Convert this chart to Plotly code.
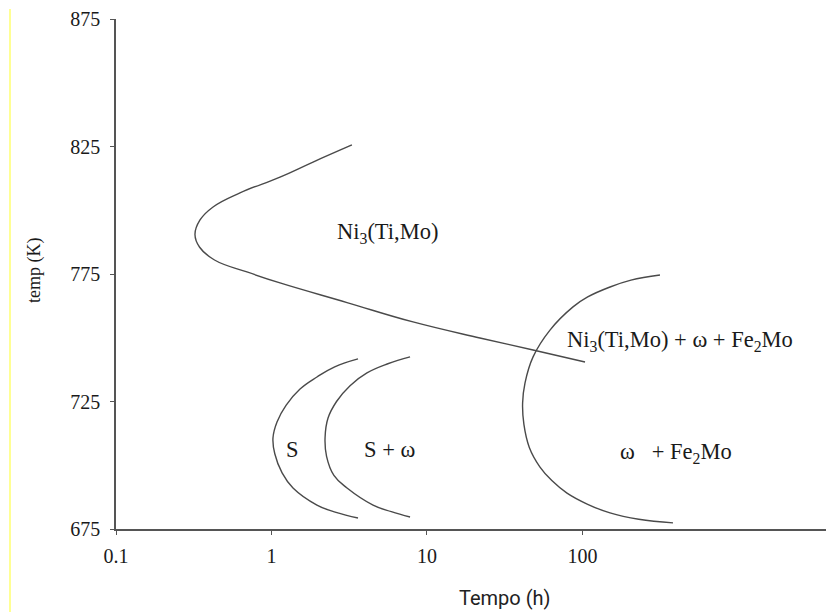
import math
import plotly.graph_objects as go

# ---- data (time in h, temperature in K) ----
ni3_t = [3.29, 1.85, 1.134, 0.627, 0.421, 0.347, 0.322, 0.345, 0.43, 0.695, 1.134, 3.06, 8.13, 21.9, 48.1, 103.8]
ni3_T = [825.6, 818.9, 813.0, 806.8, 801.3, 796.2, 790.5, 785.5, 780.5, 775.8, 771.5, 763.8, 756.2, 749.9, 745.2, 740.5]

s_t = [3.60, 2.55, 1.96, 1.52, 1.24, 1.085, 1.022, 1.05, 1.17, 1.375, 1.96, 2.6, 3.60]
s_T = [741.7, 738.6, 734.6, 729.8, 723.5, 717.0, 710.7, 704.5, 697.0, 691.1, 684.4, 681.5, 679.3]

sw_t = [7.78, 5.6, 4.11, 3.2, 2.62, 2.31, 2.21, 2.26, 2.52, 3.06, 4.50, 5.9, 7.78]
sw_T = [742.5, 739.8, 736.2, 731.2, 725.0, 718.5, 710.7, 703.5, 696.0, 691.1, 684.4, 681.8, 679.7]

wf_t = [315, 205, 150.3, 108, 86.9, 61.8, 48.1, 42.7, 41.2, 42.0, 45.5, 53.3, 63.5, 79.5, 108, 150.3, 230, 382]
wf_T = [774.6, 772.6, 769.9, 766.0, 762.1, 753.0, 742.5, 732.3, 724.4, 716.0, 707.0, 699.3, 694.0, 689.1, 684.7, 681.3, 678.8, 677.4]

x_tickvals = [0.1, 1, 10, 100]
x_ticktext = ["0.1", "1", "10", "100"]
y_tickvals = [675, 725, 775, 825, 875]

labels = ["Ni<sub>3</sub>(Ti,Mo)", "Ni<sub>3</sub>(Ti,Mo) + ω + Fe<sub>2</sub>Mo", "S", "S + ω", "ω   + Fe<sub>2</sub>Mo"]
label_t = [5.61, 424, 1.374, 5.78, 399]
label_T = [791.0, 748.6, 706.0, 706.0, 705.0]

SERIF = "Liberation Serif, Times New Roman, serif"
LINE = "#4a4a4a"
TXT = "#1a1a1a"

fig = go.Figure()
for xs, ys in [(ni3_t, ni3_T), (s_t, s_T), (sw_t, sw_T), (wf_t, wf_T)]:
    fig.add_trace(go.Scatter(x=xs, y=ys, mode="lines",
                             line=dict(color=LINE, width=1.4, shape="spline", smoothing=1.2),
                             showlegend=False, hoverinfo="skip"))

for txt, tx, ty in zip(labels, label_t, label_T):
    fig.add_annotation(x=math.log10(tx), y=ty, xref="x", yref="y", text=txt, showarrow=False,
                       font=dict(family=SERIF, size=22.5, color=TXT), xanchor="center", yanchor="middle")

# y axis title
fig.add_annotation(xref="paper", yref="paper", x=(34 - 116) / 710, y=(529 - 271) / 510,
                   text="temp (K)", textangle=-90, showarrow=False,
                   font=dict(family=SERIF, size=18, color=TXT), xanchor="center", yanchor="middle")
# x axis title
fig.add_annotation(xref="paper", yref="paper", x=(505 - 116) / 710, y=(529 - 598) / 510,
                   text="Tempo (h)", showarrow=False,
                   font=dict(family="Liberation Sans Narrow, Roboto, sans-serif", size=20, color="#222"),
                   xanchor="center", yanchor="middle")
# thin yellow border line at left
fig.add_shape(type="line", xref="paper", yref="paper", x0=(10 - 116) / 710, x1=(10 - 116) / 710,
              y0=(529 - 612) / 510, y1=(529 - 9) / 510, line=dict(color="#ffff70", width=1.5))

fig.update_layout(
    width=827, height=612,
    margin=dict(l=116, r=1, t=19, b=83),
    paper_bgcolor="white", plot_bgcolor="white",
    xaxis=dict(type="log", range=[-1, 3.566], tickvals=x_tickvals, ticktext=x_ticktext,
               showgrid=False, zeroline=False, showline=True, linecolor="#555", linewidth=1.5,
               ticks="outside", ticklen=4, tickcolor="#555", ticklabelstandoff=4,
               tickfont=dict(family=SERIF, size=20, color=TXT)),
    yaxis=dict(range=[675, 875], tickvals=y_tickvals,
               showgrid=False, zeroline=False, showline=True, linecolor="#555", linewidth=1.5,
               ticks="outside", ticklen=4, tickcolor="#555", ticklabelstandoff=6,
               tickfont=dict(family=SERIF, size=20, color=TXT)),
)

fig.write_html("out.html")
